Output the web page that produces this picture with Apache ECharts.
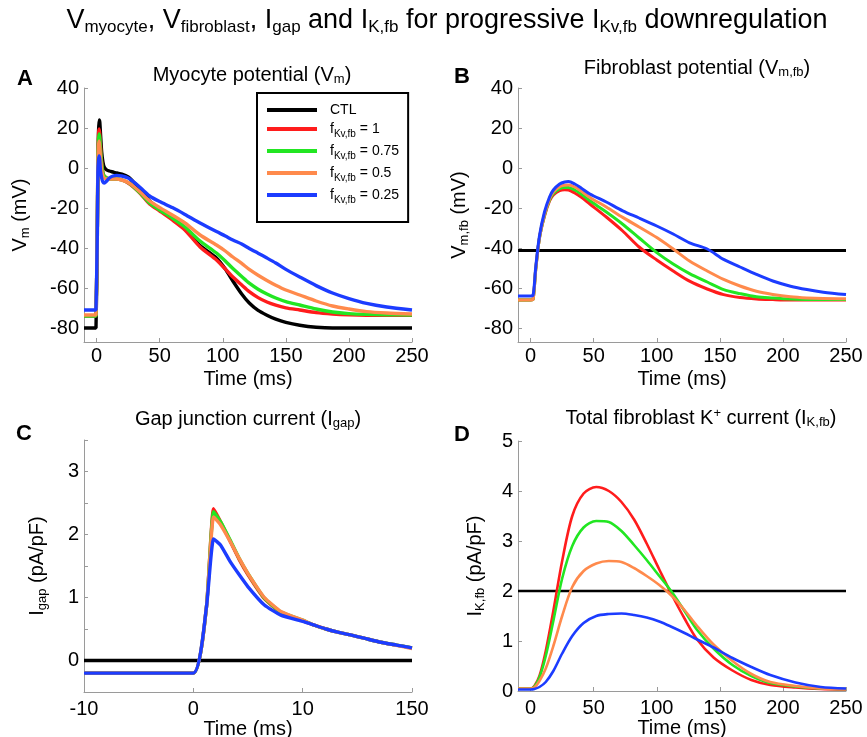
<!DOCTYPE html>
<html>
<head>
<meta charset="utf-8">
<script src="https://cdn.jsdelivr.net/npm/echarts@6/dist/echarts.min.js"></script>
<style>
  html, body { margin: 0; padding: 0; background: #fff; }
  #chart { width: 867px; height: 737px; }
</style>
</head>
<body>
<div id="chart"></div>
<script>
/* ===== data ===== */
// A: myocyte potential (mV)
const tA = [-10, -0.5, 0, 0.5, 1, 1.5, 2, 2.5, 3, 4, 5, 6, 8, 10, 13, 16, 20, 25, 30, 35, 42, 50, 60, 70, 82, 95, 102, 108, 115, 121, 128, 135, 142, 150, 161, 174, 187, 200, 214, 230, 250];
const ctlA  = [-80, -80, -80, -40, 0, 18, 24, 23, 18, 8, 3, 0.5, -1, -1.5, -2, -2.5, -3, -4.5, -7.5, -11, -16.5, -20.5, -25.5, -30.5, -38.8, -45, -50.5, -56.5, -63, -67.5, -71.2, -73.6, -75.6, -77.2, -78.6, -79.6, -80, -80, -80, -80, -80];
const f1A   = [-74, -74, -74, -35, 5, 17, 19.5, 17, 12, 3, -2, -4, -5, -5.5, -5.5, -5.5, -6, -7.5, -10, -13, -18, -21.5, -26, -31, -39.5, -46, -50.5, -54.5, -58.5, -61.8, -64.8, -67, -68.6, -69.9, -71, -72.3, -73, -73.4, -73.6, -73.7, -73.7];
const f075A = [-74, -74, -74, -35, 4, 14, 17, 15, 10, 2, -2.5, -4, -5, -5.5, -5.5, -5.5, -6, -7.3, -9.8, -12.8, -17.5, -21, -25, -29.5, -36.5, -42.5, -46.5, -50.3, -54.3, -57.6, -60.6, -63, -65, -66.8, -68.5, -70.5, -72, -72.8, -73.2, -73.4, -73.5];
const f05A  = [-73.5, -73.5, -73.5, -35, 2, 11, 13.5, 11, 6, -1, -4, -5, -5.5, -5.5, -5.5, -5.5, -6, -7.2, -9.5, -12.3, -16.5, -19.8, -23.5, -27.5, -33.5, -38.5, -41.5, -44.5, -47.7, -50.7, -53.6, -56.2, -58.6, -61, -63.5, -66.5, -69, -70.5, -71.8, -72.5, -73];
const f025A = [-71, -71, -71, -35, -2, 4, 6, 4, -1, -5, -7, -7.5, -6.5, -5, -4, -3.7, -4, -5, -7.3, -10, -14, -16.8, -19.8, -23.2, -27.5, -31.8, -34, -36, -38, -40.2, -42.6, -45, -47.5, -50.7, -54.5, -58.8, -62.5, -65.3, -67.7, -69.5, -71];

// B: fibroblast potential (mV)
const tB = [-10, 0, 2, 4, 7, 11, 15, 18, 23, 27, 30, 35, 40, 47, 60, 73, 86, 100, 113, 126, 140, 153, 166, 179, 192, 206, 219, 232, 250];
const ctlBt = [-10, 250];
const ctlB  = [-41.3, -41.3];
const f1B   = [-66, -66, -65.5, -51, -35, -24, -16.5, -13.5, -11.3, -10.9, -11, -12.5, -14.5, -18, -24.5, -31.5, -39.5, -46, -51.5, -56.6, -60.5, -63.3, -64.8, -65.5, -65.8, -66, -66, -66, -66];
const f075B = [-66, -66, -65.5, -51, -35, -23.5, -16, -12.8, -10.3, -9.8, -9.8, -11, -13, -16.4, -22, -28.1, -35, -42.3, -48, -52.8, -57, -60.8, -62.8, -64.4, -65, -65.5, -65.7, -65.8, -65.8];
const f05B  = [-66, -66, -65.5, -51, -35, -23, -15.5, -12, -9.3, -8.6, -8.5, -9.5, -11.5, -14.7, -19.5, -24.7, -29.5, -34.8, -40.5, -46.5, -51.5, -55.7, -59, -61.6, -63.2, -64.4, -65, -65.3, -65.4];
const f025B = [-64, -64, -63.5, -50, -34, -22, -14.5, -11, -8, -7, -6.8, -8, -10, -13, -17, -21.4, -25, -29, -33, -37.4, -40.5, -45.7, -49.5, -53.2, -56.5, -59.1, -60.8, -62.1, -63.3];

// C: gap junction current (pA/pF), time axis broken after 10 ms
const tC = [-10, 0, 1.2, 1.85, 2.5, 3.4, 4.2, 5, 6.5, 8, 10, 25, 40, 55, 70, 90, 110, 130, 150];
const ctlCt = [-10, 150];
const ctlC  = [0, 0];
const f1C   = [-0.2, -0.2, 0.85, 2.41, 2.2, 1.88, 1.6, 1.36, 0.98, 0.76, 0.63, 0.56, 0.5, 0.45, 0.41, 0.35, 0.29, 0.245, 0.2];
const f075C = [-0.2, -0.2, 0.85, 2.36, 2.2, 1.9, 1.62, 1.38, 0.99, 0.77, 0.64, 0.56, 0.5, 0.45, 0.41, 0.35, 0.29, 0.245, 0.2];
const f05C  = [-0.2, -0.2, 0.85, 2.28, 2.15, 1.88, 1.62, 1.38, 1.0, 0.78, 0.64, 0.56, 0.5, 0.45, 0.41, 0.35, 0.29, 0.24, 0.19];
const f025C = [-0.2, -0.2, 0.85, 1.93, 1.83, 1.56, 1.36, 1.17, 0.88, 0.72, 0.62, 0.56, 0.5, 0.45, 0.41, 0.35, 0.29, 0.245, 0.2];

// D: total fibroblast K+ current (pA/pF)
const tD = [-10, 0, 3, 7, 12, 18, 25, 33, 42, 52, 62, 72, 82, 92, 102, 112, 122, 132, 145, 160, 175, 190, 210, 230, 250];
const ctlDt = [-10, 250];
const ctlD  = [2.0, 2.0];
const f1D   = [0.05, 0.05, 0.1, 0.3, 0.8, 1.6, 2.6, 3.5, 3.95, 4.08, 4.0, 3.78, 3.43, 2.95, 2.43, 1.92, 1.45, 1.03, 0.67, 0.41, 0.22, 0.12, 0.07, 0.04, 0.03];
const f075D = [0.05, 0.05, 0.09, 0.27, 0.7, 1.4, 2.25, 2.9, 3.27, 3.4, 3.38, 3.2, 2.92, 2.62, 2.3, 1.98, 1.6, 1.22, 0.85, 0.52, 0.3, 0.16, 0.09, 0.05, 0.04];
const f05D  = [0.05, 0.05, 0.07, 0.2, 0.45, 0.9, 1.5, 2.08, 2.4, 2.55, 2.6, 2.58, 2.46, 2.3, 2.12, 1.9, 1.62, 1.3, 0.93, 0.6, 0.34, 0.18, 0.1, 0.05, 0.04];
const f025D = [0.03, 0.03, 0.04, 0.08, 0.18, 0.4, 0.75, 1.1, 1.36, 1.5, 1.54, 1.55, 1.52, 1.47, 1.39, 1.28, 1.16, 1.03, 0.87, 0.66, 0.48, 0.32, 0.17, 0.08, 0.05];

// ticks
const timeTicks = [0, 50, 100, 150, 200, 250];
const vTicks = [-80, -60, -40, -20, 0, 20, 40];

const names  = ['CTL', 'f1', 'f075', 'f05', 'f025'];
const colors = ['#000000', '#ff1c1c', '#22e622', '#ff8a4c', '#1c3cff'];
const legendLabels = {
  CTL:  '{p|CTL}',
  f1:   '{p|f}{s|Kv,fb}{a| = 1}',
  f075: '{p|f}{s|Kv,fb}{a| = 0.75}',
  f05:  '{p|f}{s|Kv,fb}{a| = 0.5}',
  f025: '{p|f}{s|Kv,fb}{a| = 0.25}'
};

/* ===== helpers ===== */
const FONT = 'Liberation Sans, Arial, Helvetica, sans-serif';
const AXIS_GRAY = '#9a9a9a';

// panel C: 10..150 ms squeezed into one tick interval
const squeeze = t => t <= 10 ? t : 10 + (t - 10) * 10 / 140;

function line(k, gi, ts, vs, width, smooth, mapX) {
  const c = colors[names.indexOf(k)];
  return {
    type: 'line', name: k, xAxisIndex: gi, yAxisIndex: gi,
    data: ts.map((t, i) => [mapX ? mapX(t) : t, vs[i]]),
    symbol: 'none', showSymbol: false, smooth: smooth,
    lineStyle: { color: c, width: width }, itemStyle: { color: c },
    animation: false
  };
}

const subRich = (big, small, drop) => ({
  n: { fontSize: big, fontFamily: FONT, color: '#000' },
  s: { fontSize: small, fontFamily: FONT, color: '#000', padding: [drop, 0, 0, 0] }
});

function xAxis(gi, o) {
  return {
    type: 'value', gridIndex: gi, min: o.min, max: o.max, interval: o.interval,
    axisLine: { onZero: false, lineStyle: { color: AXIS_GRAY, width: 1 } },
    axisTick: { inside: true, length: 4, lineStyle: { color: AXIS_GRAY }, customValues: o.ticks },
    axisLabel: { color: '#000', fontSize: 20, fontFamily: FONT, margin: o.margin, customValues: o.ticks, formatter: o.fmt },
    splitLine: { show: false },
    name: 'Time (ms)', nameLocation: 'middle', nameGap: o.nameGap,
    nameTextStyle: { color: '#000', fontSize: 20, fontFamily: FONT }
  };
}

function yAxis(gi, o) {
  return {
    type: 'value', gridIndex: gi, min: o.min, max: o.max, interval: o.interval,
    axisLine: { onZero: false, lineStyle: { color: AXIS_GRAY, width: 1 } },
    axisTick: { inside: true, length: 4, lineStyle: { color: AXIS_GRAY }, customValues: o.ticks },
    axisLabel: { color: '#000', fontSize: 20, fontFamily: FONT, margin: 5, customValues: o.ticks, formatter: o.fmt },
    splitLine: { show: false },
    name: o.name, nameLocation: 'middle', nameGap: o.nameGap, nameRotate: 90,
    nameTextStyle: { color: '#000', fontSize: 20, fontFamily: FONT, rich: subRich(20, 13, 10) }
  };
}

function label(x, y, text, size, weight, rich) {
  return {
    type: 'text', x: x, y: y, silent: true,
    style: {
      text: text, fontSize: size, fontWeight: weight || 'normal', fontFamily: FONT, fill: '#000',
      align: 'center', verticalAlign: 'middle', textAlign: 'center', textVerticalAlign: 'middle',
      rich: rich
    }
  };
}

const gRich = (big, small, drop) => ({
  n: { fontSize: big, fontFamily: FONT, fill: '#000' },
  s: { fontSize: small, fontFamily: FONT, fill: '#000', padding: [drop, 0, 0, 0] },
  u: { fontSize: small, fontFamily: FONT, fill: '#000', padding: [0, 0, drop, 0] }
});

/* ===== chart ===== */
const chart = echarts.init(document.getElementById('chart'), null, { renderer: 'canvas' });

const series = [];
const panelA = [ctlA, f1A, f075A, f05A, f025A];
names.forEach((k, i) => series.push(line(k, 0, tA, panelA[i], 3.4, 0.25)));
const panelB = [ctlB, f1B, f075B, f05B, f025B];
names.forEach((k, i) => series.push(line(k, 1, i ? tB : ctlBt, panelB[i], 3, 0.3)));
const panelC = [ctlC, f1C, f075C, f05C, f025C];
names.forEach((k, i) => series.push(line(k, 2, i ? tC : ctlCt, panelC[i], 3.4, 0.15, squeeze)));
const panelD = [ctlD, f1D, f075D, f05D, f025D];
names.forEach((k, i) => series.push(line(k, 3, i ? tD : ctlDt, panelD[i], 2.6, 0.3)));

chart.setOption({
  backgroundColor: '#fff',
  animation: false,
  grid: [
    { left: 84,  top: 88,  width: 328, height: 254, outerBoundsMode: 'none' },
    { left: 518, top: 88,  width: 328, height: 254, outerBoundsMode: 'none' },
    { left: 84,  top: 440, width: 328, height: 252, outerBoundsMode: 'none' },
    { left: 518, top: 441, width: 328, height: 250, outerBoundsMode: 'none' }
  ],
  xAxis: [
    xAxis(0, { min: -10, max: 250, ticks: timeTicks, margin: 4, nameGap: 27 }),
    xAxis(1, { min: -10, max: 250, ticks: timeTicks, margin: 4, nameGap: 27 }),
    xAxis(2, { min: -10, max: 20, interval: 10, margin: 7, nameGap: 14,
               fmt: v => v === 20 ? '150' : String(v) }),
    xAxis(3, { min: -10, max: 250, ticks: timeTicks, margin: 7, nameGap: 14 })
  ],
  yAxis: [
    yAxis(0, { min: -87, max: 40, ticks: vTicks, name: '{n|V}{s|m}{n| (mV)}', nameGap: 52 }),
    yAxis(1, { min: -87, max: 40, ticks: vTicks, name: '{n|V}{s|m,fb}{n| (mV)}', nameGap: 47 }),
    yAxis(2, { min: -0.5, max: 3.5, interval: 0.5, name: '{n|I}{s|gap}{n| (pA/pF)}', nameGap: 35,
               fmt: v => (Number.isInteger(v) && v >= 0) ? String(v) : '' }),
    yAxis(3, { min: 0, max: 5, interval: 1, name: '{n|I}{s|K,fb}{n| (pA/pF)}', nameGap: 31 })
  ],
  legend: {
    orient: 'vertical', left: 257, top: 93,
    icon: 'rect', itemWidth: 50, itemHeight: 4, itemGap: 5,
    borderColor: '#000', borderWidth: 2, borderRadius: 0,
    padding: [10, 9, 17, 10],
    data: names,
    selectedMode: false,
    formatter: n => legendLabels[n],
    textStyle: {
      color: '#000', fontSize: 14, fontFamily: FONT,
      rich: {
        p: { fontSize: 14, fontFamily: FONT, color: '#000', lineHeight: 21, padding: [0, 0, 0, 8] },
        a: { fontSize: 14, fontFamily: FONT, color: '#000', lineHeight: 21 },
        s: { fontSize: 10, fontFamily: FONT, color: '#000', padding: [10, 0, 0, 0] }
      }
    }
  },
  graphic: [
    label(447, 21, '{n|V}{s|myocyte}{n|, V}{s|fibroblast}{n|, I}{s|gap}{n| and I}{s|K,fb}{n| for progressive I}{s|Kv,fb}{n| downregulation}', 27, 'normal', gRich(27, 17, 12)),
    label(252, 75, '{n|Myocyte potential (V}{s|m}{n|)}', 20, 'normal', gRich(20, 13, 9)),
    label(697, 68, '{n|Fibroblast potential (V}{s|m,fb}{n|)}', 20, 'normal', gRich(20, 13, 9)),
    label(248, 419, '{n|Gap junction current (I}{s|gap}{n|)}', 20, 'normal', gRich(20, 13, 9)),
    label(701, 418, '{n|Total fibroblast K}{u|+}{n| current (I}{s|K,fb}{n|)}', 20, 'normal', gRich(20, 13, 9)),
    label(25, 79, 'A', 22, 'bold'),
    label(462, 77, 'B', 22, 'bold'),
    label(24, 434, 'C', 22, 'bold'),
    label(462, 435, 'D', 22, 'bold')
  ],
  series: series
});
</script>
</body>
</html>
